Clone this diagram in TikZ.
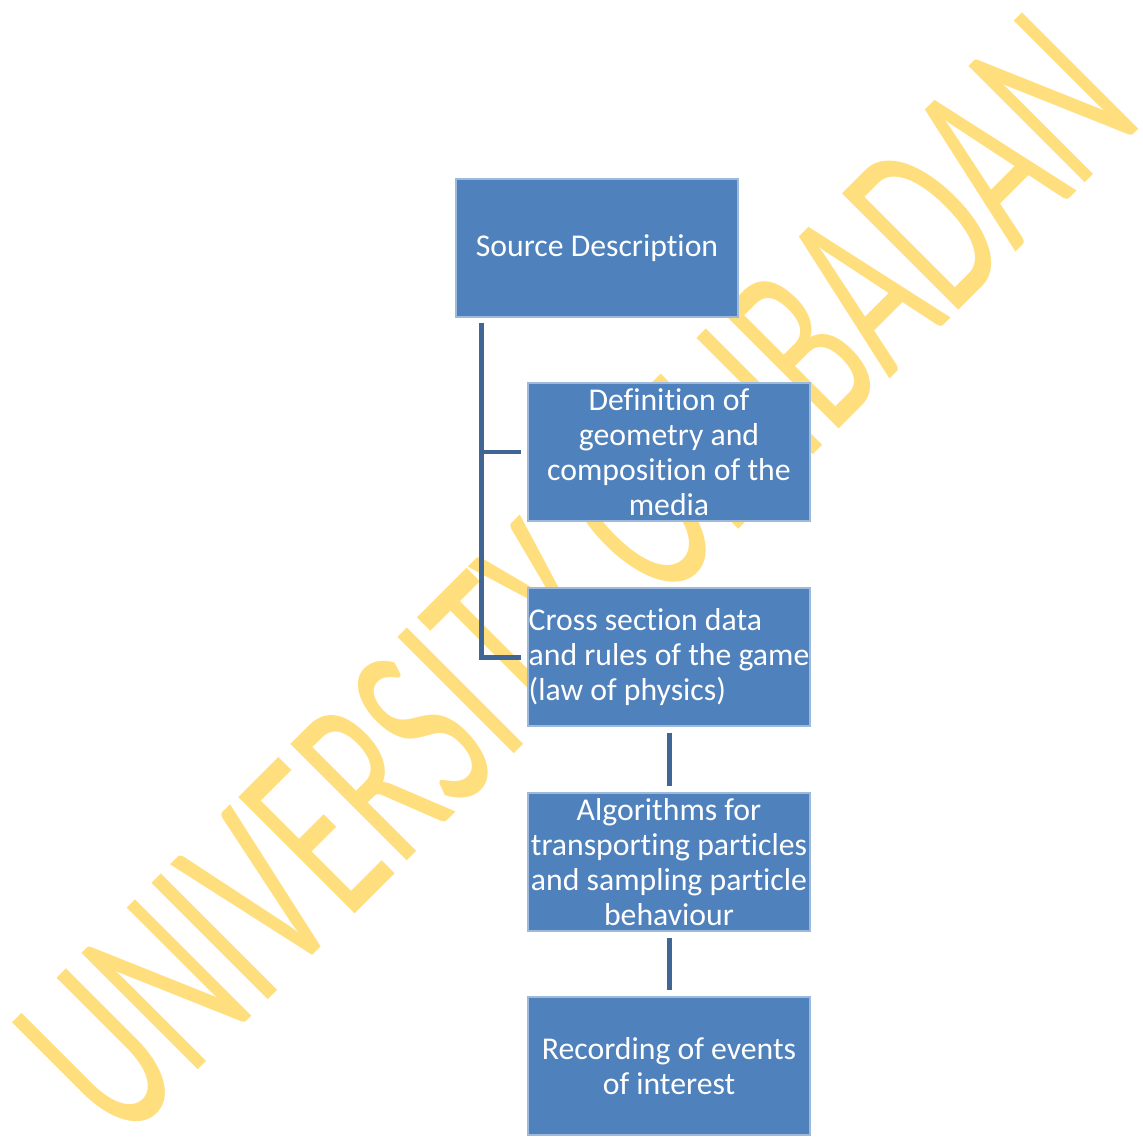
\documentclass[tikz,border=0pt]{standalone}
\usepackage{fontspec}
\setmainfont{Carlito}[Ligatures={NoCommon,NoRequired,NoContextual},RawFeature={-liga;-clig;-dlig}]
\definecolor{boxblue}{RGB}{79,129,189}
\definecolor{linkblue}{RGB}{64,102,150}
\definecolor{markyellow}{RGB}{255,222,125}
\begin{document}
\begin{tikzpicture}[
        block/.style={fill=boxblue,draw=boxblue!55!white,line width=0.3pt,minimum width=2.82cm,minimum height=1.38cm,inner sep=0pt,text=white,align=center,font=\fontsize{9.03pt}{9.96pt}\selectfont},
        link/.style={draw=linkblue,line width=1.42pt}]
                \useasboundingbox (0,0) rectangle (11.43,11.42);
                \node (mark) at (5.76,5.66) [rotate=45,xscale=0.59,inner sep=0pt,text=markyellow,font=\fontsize{73pt}{80pt}\selectfont]{UNIVERSITY OF IBADAN};
                \node (src) at (5.97,8.94) [block]{Source Description};
                \node (geom) at (6.69,6.90) [block]{Definition of\\geometry and\\composition of the\\media};
                \node (xsec) at (6.69,4.85) [block,align=left]{Cross section data\\and rules of the game\\(law of physics)};
                \node (algo) at (6.69,2.80) [block]{Algorithms for\\transporting particles\\and sampling particle\\behaviour};
                \node (rec) at (6.69,0.76) [block]{Recording of events\\of interest};
                \draw [link]([xshift=0.26cm,yshift=-0.05cm]src.south west) |- ([xshift=-0.06cm]geom.west);
                \draw [link]([xshift=0.26cm,yshift=-0.05cm]src.south west) |- ([xshift=-0.06cm]xsec.west);
                \draw [link]([yshift=-0.06cm]xsec.south) -- ([yshift=0.06cm]algo.north);
                \draw [link]([yshift=-0.06cm]algo.south) -- ([yshift=0.06cm]rec.north);
                \end{tikzpicture}
\end{document}
